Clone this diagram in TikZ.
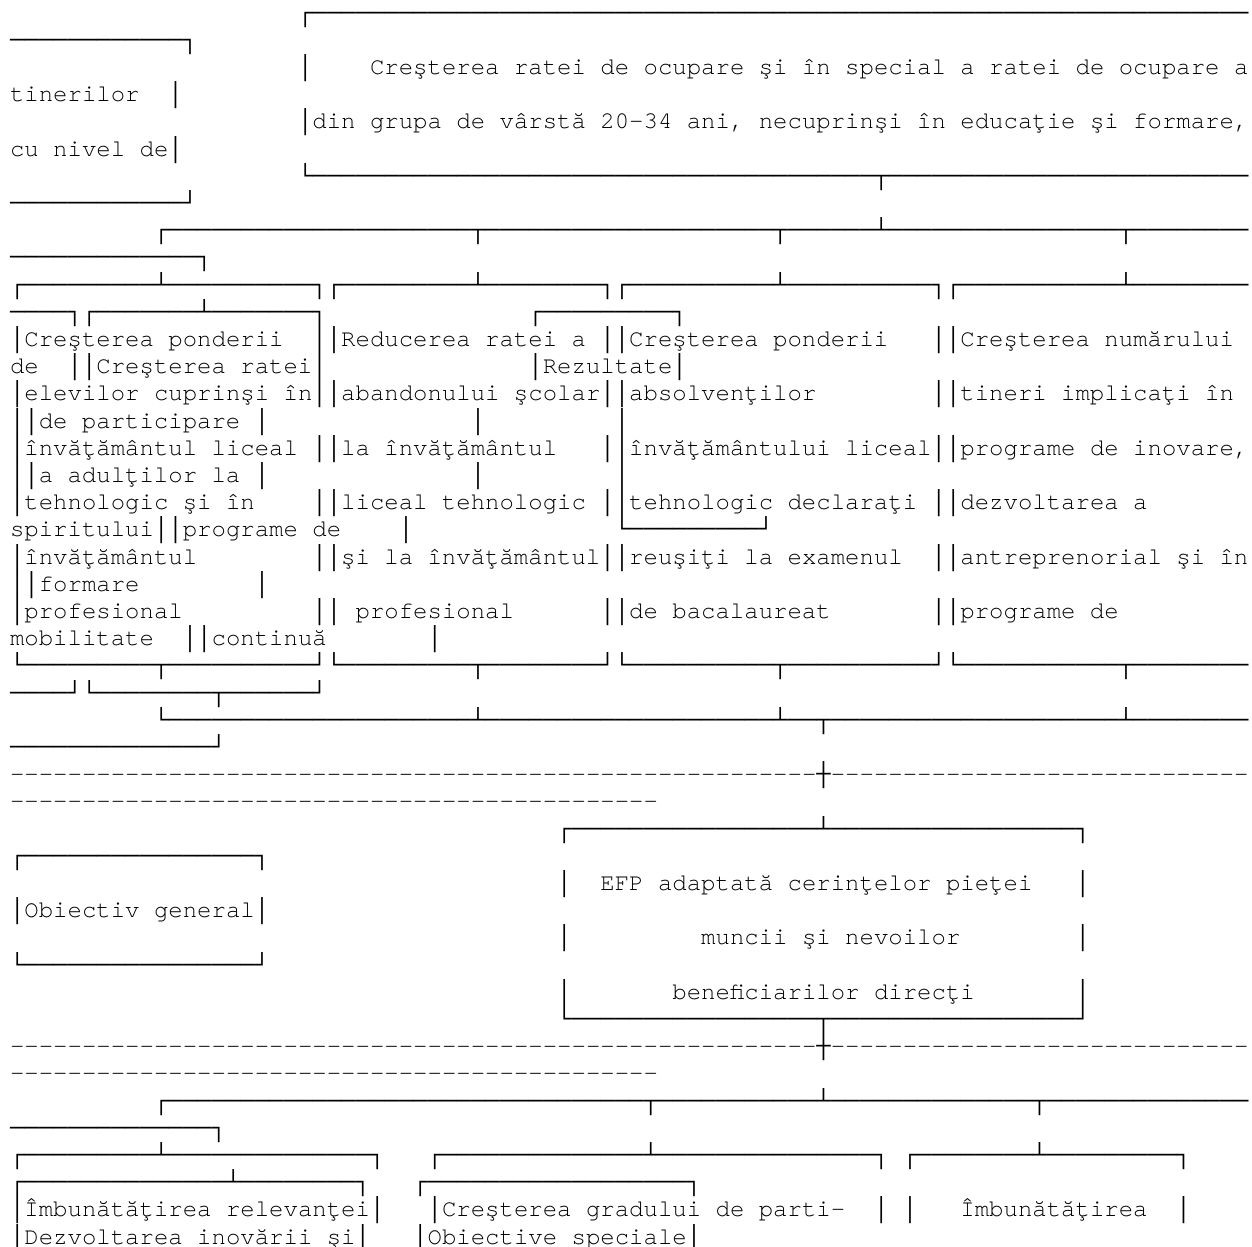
\documentclass[tikz,border=0pt]{standalone}
\usepackage{fontspec}
\usepackage{newunicodechar}
\newfontfamily\monof{Liberation Mono}
\newfontfamily\curf{TeX Gyre Cursor}
\newcommand\bx[1]{{\monof\char#1\relax}}
\newunicodechar{│}{\bx{"2502}}
\newunicodechar{─}{\bx{"2500}}
\newunicodechar{┌}{\bx{"250C}}
\newunicodechar{┐}{\bx{"2510}}
\newunicodechar{└}{\bx{"2514}}
\newunicodechar{┘}{\bx{"2518}}
\newunicodechar{┬}{\bx{"252C}}
\newunicodechar{┴}{\bx{"2534}}
\newunicodechar{┼}{\bx{"253C}}
\ExplSyntaxOn
\cs_new:Npn \rpH #1 { \prg_replicate:nn {#1} {─} }
\cs_new:Npn \rpD #1 { \prg_replicate:nn {#1} {-} }
\ExplSyntaxOff
\newcounter{segno}
\tikzset{txt/.style={anchor=base west, inner sep=0pt, outer sep=0pt, font=\curf\fontsize{24bp}{27bp}\selectfont}}
\newcommand\seg[3]{\stepcounter{segno}\node[txt] (s\arabic{segno}) at ({10+14.4*#2},{20+27.2*#1}) {#3};}
\begin{document}
\begin{tikzpicture}[x=1bp,y=-1bp]
\useasboundingbox (0,0) rectangle (1252,1247);
\fill[white] (0,0) rectangle (1252,1247);
\clip (0,0) rectangle (1252,1247);
% top part
\seg{0}{20}{┌\rpH{65}}
\seg{1}{0}{\rpH{12}┐}
\seg{2}{20}{│}
\seg{2}{25}{Creşterea ratei de ocupare şi în special a ratei de ocupare a}
\seg{3}{0}{tinerilor}
\seg{3}{11}{│}
\seg{4}{20}{│din grupa de vârstă 20-34 ani, necuprinşi în educaţie şi formare,}
\seg{5}{0}{cu nivel de│}
\seg{6}{20}{└\rpH{39}┬\rpH{25}}
\seg{7}{0}{\rpH{12}┘}
\seg{8}{10}{┌\rpH{21}┬\rpH{20}┬\rpH{6}┴\rpH{16}┬\rpH{8}}
\seg{9}{0}{\rpH{13}┐}
\seg{10}{0}{┌\rpH{9}┴\rpH{10}┐┌\rpH{9}┴\rpH{8}┐┌\rpH{10}┴\rpH{10}┐┌\rpH{11}┴\rpH{8}}
\seg{11}{0}{\rpH{4}┐┌\rpH{7}┴\rpH{7}┐}
\seg{11}{36}{┌\rpH{9}┐}
\seg{12}{0}{│Creşterea ponderii}
\seg{12}{21}{││Reducerea ratei a}
\seg{12}{41}{││Creşterea ponderii}
\seg{12}{64}{││Creşterea numărului}
\seg{13}{0}{de}
\seg{13}{4}{││Creşterea ratei│}
\seg{13}{36}{│Rezultate│}
\seg{14}{0}{│elevilor cuprinşi în││abandonului şcolar││absolvenţilor}
\seg{14}{64}{││tineri implicaţi în}
\seg{15}{0}{││de participare}
\seg{15}{17}{│}
\seg{15}{32}{│}
\seg{15}{42}{│}
\seg{16}{0}{│învăţământul liceal}
\seg{16}{21}{││la învăţământul}
\seg{16}{41}{││învăţământului liceal││programe de inovare,}
\seg{17}{0}{││a adulţilor la}
\seg{17}{17}{│}
\seg{17}{32}{│}
\seg{17}{42}{│}
\seg{18}{0}{│tehnologic şi în}
\seg{18}{21}{││liceal tehnologic}
\seg{18}{41}{││tehnologic declaraţi}
\seg{18}{64}{││dezvoltarea a}
\seg{19}{0}{spiritului││programe de}
\seg{19}{27}{│}
\seg{19}{42}{└\rpH{9}┘}
\seg{20}{0}{│învăţământul}
\seg{20}{21}{││şi la învăţământul││reuşiţi la examenul}
\seg{20}{64}{││antreprenorial şi în}
\seg{21}{0}{││formare}
\seg{21}{17}{│}
\seg{22}{0}{│profesional}
\seg{22}{21}{││}
\seg{22}{24}{profesional}
\seg{22}{41}{││de bacalaureat}
\seg{22}{64}{││programe de}
\seg{23}{0}{mobilitate}
\seg{23}{12}{││continuă}
\seg{23}{29}{│}
\seg{24}{0}{└\rpH{9}┬\rpH{10}┘└\rpH{9}┬\rpH{8}┘└\rpH{10}┬\rpH{10}┘└\rpH{11}┬\rpH{8}}
\seg{25}{0}{\rpH{4}┘└\rpH{8}┬\rpH{6}┘}
\seg{26}{10}{└\rpH{21}┴\rpH{20}┴\rpH{2}┬\rpH{20}┴\rpH{8}}
\seg{27}{0}{\rpH{14}┘}
\seg{28}{0}{\rpD{56}┼\rpD{29}}
\seg{29}{0}{\rpD{45}}
% middle part
\seg{30}{38}{┌\rpH{17}┴\rpH{17}┐}
\seg{31}{0}{┌\rpH{16}┐}
\seg{32}{38}{│}
\seg{32}{41}{EFP adaptată cerinţelor pieţei}
\seg{32}{74}{│}
\seg{33}{0}{│Obiectiv general│}
\seg{34}{38}{│}
\seg{34}{48}{muncii şi nevoilor}
\seg{34}{74}{│}
\seg{35}{0}{└\rpH{16}┘}
\seg{36}{38}{│}
\seg{36}{46}{beneficiarilor direcţi}
\seg{36}{74}{│}
\seg{37}{38}{└\rpH{17}┬\rpH{17}┘}
\seg{38}{0}{\rpD{56}┼\rpD{29}}
\seg{39}{0}{\rpD{45}}
% bottom part
\seg{40}{10}{┌\rpH{33}┬\rpH{11}┴\rpH{14}┬\rpH{14}}
\seg{41}{0}{\rpH{14}┐}
\seg{42}{0}{┌\rpH{9}┴\rpH{14}┐}
\seg{42}{29}{┌\rpH{14}┴\rpH{15}┐}
\seg{42}{62}{┌\rpH{8}┴\rpH{9}┐}
\seg{43}{0}{┌\rpH{14}┴\rpH{8}┐}
\seg{43}{28}{┌\rpH{18}┐}
\seg{44}{0}{│Îmbunătăţirea relevanţei│}
\seg{44}{29}{│Creşterea gradului de parti-}
\seg{44}{60}{│}
\seg{44}{62}{│}
\seg{44}{66}{Îmbunătăţirea}
\seg{44}{81}{│}
\seg{45}{0}{│Dezvoltarea inovării şi│}
\seg{45}{28}{│Obiective speciale│}
\end{tikzpicture}
\end{document}
